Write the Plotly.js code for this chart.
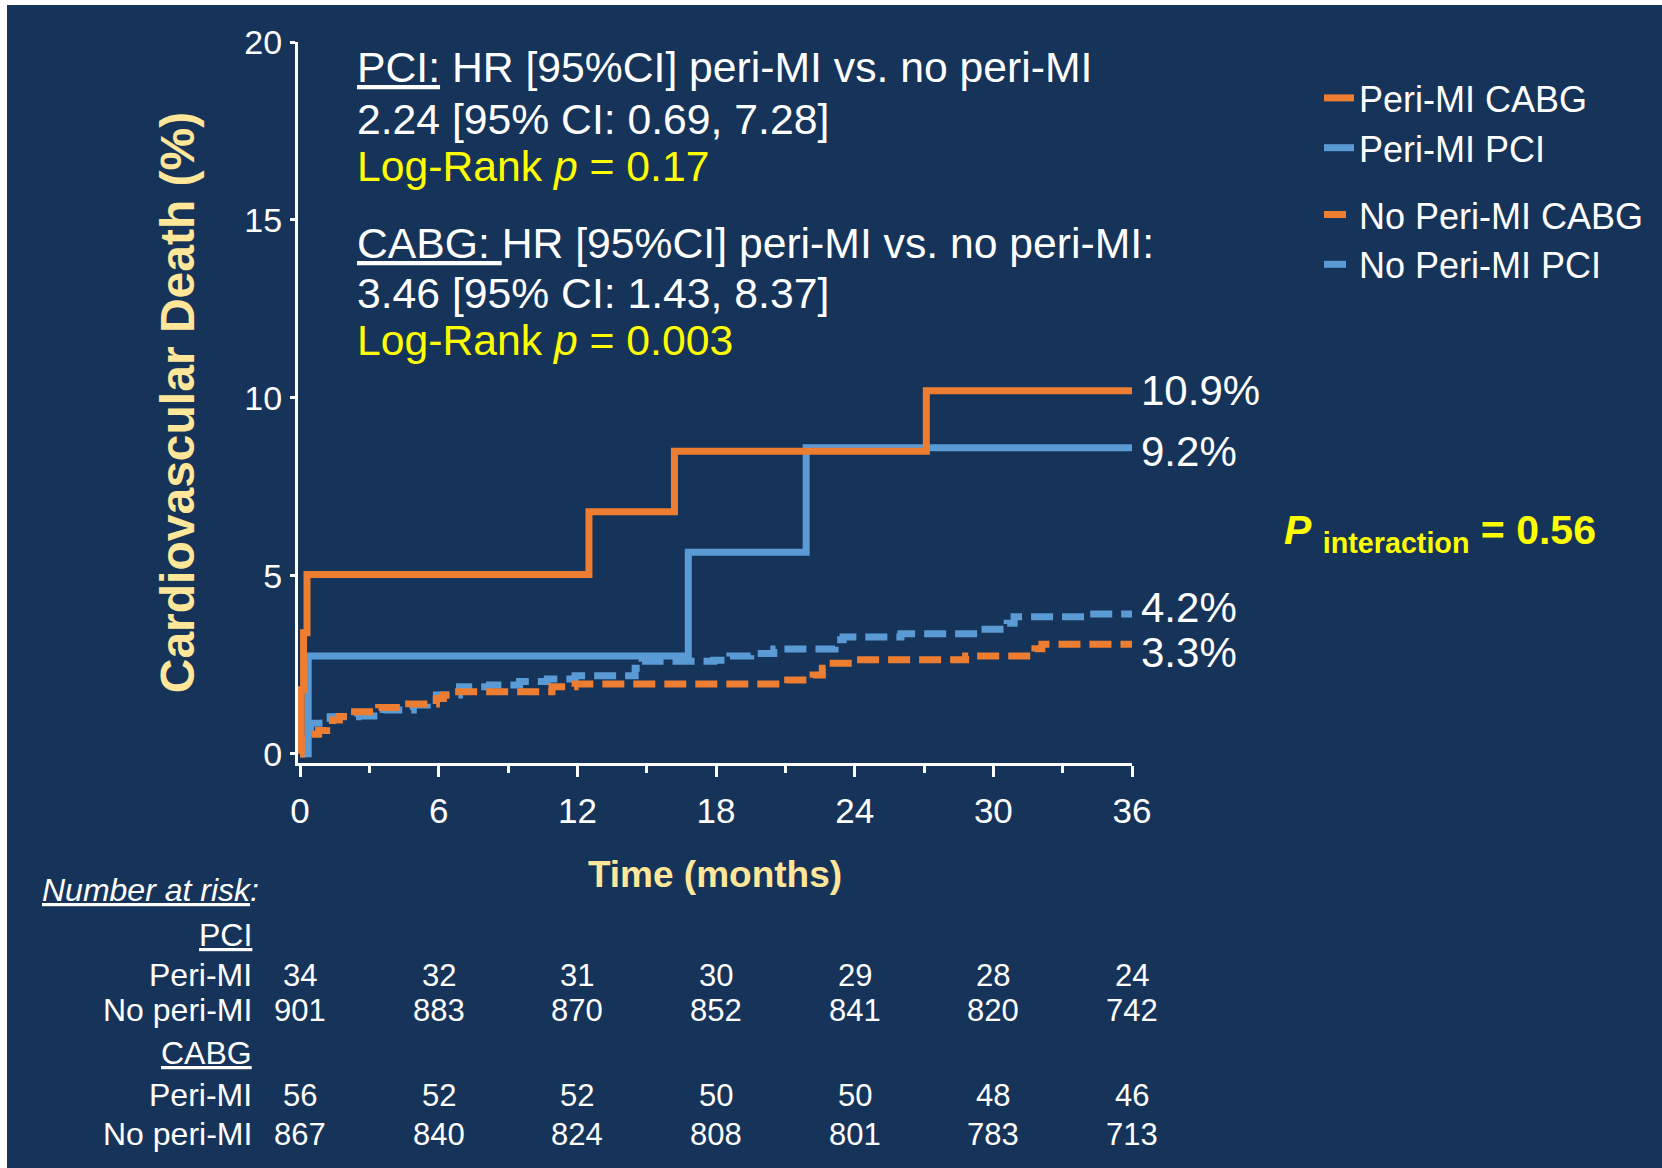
<!DOCTYPE html>
<html>
<head>
<meta charset="utf-8">
<script src="https://cdn.plot.ly/plotly-3.0.1.min.js"></script>
<style>
html,body{margin:0;padding:0;background:#ffffff;}
#chart{position:absolute;left:7px;top:5px;width:1655px;height:1163px;}
</style>
</head>
<body>
<div id="chart"></div>
<script>
// ---------------- DATA ----------------
const seriesNames = ["Peri-MI CABG", "Peri-MI PCI", "No Peri-MI CABG", "No Peri-MI PCI"];

// Peri-MI CABG (solid orange)
const periCabgT = [0, 0.05, 0.15, 0.3, 12.5, 16.2, 27.1, 36];
const periCabgY = [0, 1.8, 3.4, 5.04, 6.8, 8.5, 10.2, 10.2];

// Peri-MI PCI (solid blue)
const periPciT = [0, 0.35, 16.8, 21.9, 36];
const periPciY = [0, 2.75, 5.66, 8.6, 8.6];

// No Peri-MI CABG (dashed orange)
const noPeriCabgT = [0, 0.1, 0.2, 0.3, 0.45, 0.8, 1.15, 1.4, 1.7, 2.2, 3.4, 4.7, 5.9, 6.2, 6.7, 10.9, 11.9, 21.1, 22.2, 22.6, 22.9, 24.1, 28.8, 31.8, 32.1, 36];
const noPeriCabgY = [0, 0.1, 0.25, 0.4, 0.55, 0.65, 0.76, 0.95, 1.05, 1.18, 1.3, 1.4, 1.55, 1.65, 1.74, 1.88, 1.96, 2.07, 2.21, 2.4, 2.54, 2.64, 2.75, 2.95, 3.08, 3.08];

// No Peri-MI PCI (dashed blue)
const noPeriPciT = [0, 0.1, 0.25, 0.45, 1.3, 2.5, 3.6, 4.9, 5.5, 5.9, 6.9, 8.2, 9.5, 10.7, 11.9, 14.5, 14.8, 17.9, 18.6, 19.5, 20.5, 23.15, 23.5, 26.0, 29.4, 30.6, 30.9, 34.0, 36];
const noPeriPciY = [0, 0.2, 0.6, 0.86, 1.04, 1.06, 1.23, 1.37, 1.5, 1.65, 1.88, 1.93, 2.03, 2.1, 2.19, 2.4, 2.6, 2.63, 2.75, 2.82, 2.94, 3.2, 3.28, 3.37, 3.5, 3.67, 3.85, 3.93, 3.93];

const endLabels = ["10.9%", "9.2%", "4.2%", "3.3%"];

const xTickVals = [0, 6, 12, 18, 24, 30, 36];
const yTickVals = [0, 5, 10, 15, 20];

// Number at risk
const riskTimes = [0, 6, 12, 18, 24, 30, 36];
const pciPeriRisk = [34, 32, 31, 30, 29, 28, 24];
const pciNoPeriRisk = [901, 883, 870, 852, 841, 820, 742];
const cabgPeriRisk = [56, 52, 52, 50, 50, 48, 46];
const cabgNoPeriRisk = [867, 840, 824, 808, 801, 783, 713];

// ---------------- STYLE / LAYOUT ----------------
const FONT = "Liberation Sans, Arial, Helvetica, sans-serif";
const BG = "#16345a";
const ORANGE = "#ed7d31";
const BLUE = "#5b9bd5";
const YELLOW = "#ffff00";
const TITLEYEL = "#ffe699";
const DASH = "22px,9px";

const W = 1655, H = 1163, L = 291, R = 530, T = 37, B = 405;
const PW = W - L - R, PH = H - T - B;
const OX = 7, OY = 5;
function px(xp) { return (xp - OX - L) / PW; }
function py(yp) { return 1 - (yp - OY - T) / PH; }

function trace(name, t, y, color, dash, rank, group) {
  return {
    type: "scatter", mode: "lines", name: name, x: t, y: y,
    line: {color: color, width: 7, dash: dash, shape: "hv"},
    legendrank: rank, legendgroup: group, hoverinfo: "skip"
  };
}

const data = [
  trace(seriesNames[3], noPeriPciT, noPeriPciY, BLUE, DASH, 4, "b"),
  trace(seriesNames[2], noPeriCabgT, noPeriCabgY, ORANGE, DASH, 3, "b"),
  trace(seriesNames[1], periPciT, periPciY, BLUE, "solid", 2, "a"),
  trace(seriesNames[0], periCabgT, periCabgY, ORANGE, "solid", 1, "a")
];

const annotations = [];
function addText(text, xp, yp, size, color, anchor) {
  annotations.push({
    text: text, xref: "paper", yref: "paper", x: px(xp), y: py(yp),
    xanchor: anchor || "left", yanchor: "middle", showarrow: false,
    font: {family: FONT, size: size, color: color}
  });
}

// HR text blocks
const HRF = 42.7;
addText("<u>PCI:</u> HR [95%CI] peri-MI vs. no peri-MI", 355, 67.5, HRF, "#ffffff");
addText("2.24 [95% CI: 0.69, 7.28]", 355, 118.7, HRF, "#ffffff");
addText("Log-Rank <i>p</i> = 0.17", 355, 166, HRF, YELLOW);
addText("<u>CABG: </u>HR [95%CI] peri-MI vs. no peri-MI:", 355, 242.5, HRF, "#ffffff");
addText("3.46 [95% CI: 1.43, 8.37]", 355, 293, HRF, "#ffffff");
addText("Log-Rank <i>p</i> = 0.003", 355, 340, HRF, YELLOW);

// End labels
const endY = [390, 451.6, 607.4, 652];
endLabels.forEach(function (lab, i) {
  annotations.push({
    text: lab, xref: "x", yref: "paper", x: 36, y: py(endY[i]),
    xanchor: "left", yanchor: "middle", xshift: 7, showarrow: false,
    font: {family: FONT, size: 42, color: "#ffffff"}
  });
});

// P interaction
addText("<b><i>P</i> <sub>interaction</sub> = 0.56</b>", 1282, 533, 41, YELLOW);

// Number at risk table
addText("<i><u>Number at risk</u>:</i>", 40, 890, 32, "#ffffff");
addText("<u>PCI</u>", 254, 935, 32, "#ffffff", "right");
addText("Peri-MI", 254, 975, 32, "#ffffff", "right");
addText("No peri-MI", 254, 1010, 32, "#ffffff", "right");
addText("<u>CABG</u>", 254, 1053, 32, "#ffffff", "right");
addText("Peri-MI", 254, 1095, 32, "#ffffff", "right");
addText("No peri-MI", 254, 1134, 32, "#ffffff", "right");

const riskRows = [[pciPeriRisk, 975], [pciNoPeriRisk, 1010], [cabgPeriRisk, 1095], [cabgNoPeriRisk, 1134]];
riskRows.forEach(function (row) {
  row[0].forEach(function (v, i) {
    annotations.push({
      text: String(v), xref: "x", yref: "paper", x: riskTimes[i], y: py(row[1]),
      xanchor: "center", yanchor: "middle", showarrow: false,
      font: {family: FONT, size: 31, color: "#ffffff"}
    });
  });
});

const layout = {
  width: W, height: H,
  margin: {l: L, r: R, t: T, b: B, pad: 0},
  paper_bgcolor: BG, plot_bgcolor: BG,
  font: {family: FONT, color: "#ffffff"},
  showlegend: true,
  legend: {
    x: px(1319), y: py(68), xanchor: "left", yanchor: "top",
    bgcolor: "rgba(0,0,0,0)", borderwidth: 0,
    font: {family: FONT, size: 36, color: "#ffffff"},
    traceorder: "grouped", tracegroupgap: 17, itemwidth: 30
  },
  xaxis: {
    range: [-0.09, 36], tickvals: xTickVals, ticktext: xTickVals.map(String),
    showline: true, linecolor: "#ffffff", linewidth: 3,
    ticks: "outside", ticklen: 11, tickwidth: 3, tickcolor: "#ffffff",
    minor: {tickvals: [3, 9, 15, 21, 27, 33], ticks: "outside", ticklen: 7, tickwidth: 3, tickcolor: "#ffffff"},
    tickfont: {family: FONT, size: 35, color: "#ffffff"},
    ticklabelstandoff: 4,
    showgrid: false, zeroline: false, fixedrange: true,
    title: {text: "Time (months)", font: {family: FONT, size: 37, color: TITLEYEL, weight: "bold"}, standoff: 33}
  },
  yaxis: {
    range: [-0.26, 20], tickvals: yTickVals, ticktext: yTickVals.map(String),
    showline: true, linecolor: "#ffffff", linewidth: 3,
    ticks: "outside", ticklen: 5, tickwidth: 3, tickcolor: "#ffffff",
    tickfont: {family: FONT, size: 34, color: "#ffffff"},
    ticklabelstandoff: 1,
    showgrid: false, zeroline: false, fixedrange: true,
    title: {text: "Cardiovascular Death (%)", font: {family: FONT, size: 48, color: TITLEYEL, weight: "bold"}, standoff: 35}
  },
  annotations: annotations
};

Plotly.newPlot("chart", data, layout, {displayModeBar: false, staticPlot: true});
</script>
</body>
</html>
